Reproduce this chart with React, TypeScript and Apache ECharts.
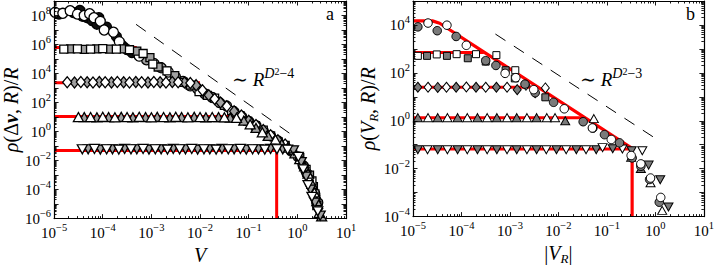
import React, { useEffect, useRef } from 'react';
import * as echarts from 'echarts';

const SERIF = '"Liberation Serif", "DejaVu Serif", "Times New Roman", serif';

// All coordinates below are log10 values: [log10 V, log10 rho/R]
// ---------- Panel a ----------
const aCirclesOpen: number[][] = [
  [-4.98, 8.22], [-4.82, 8.15], [-4.67, 8.33], [-4.52, 8.1], [-4.38, 8.0], [-4.27, 8.12], [-4.18, 7.85],
  [-4.05, 7.6], [-3.97, 7.0], [-3.78, 6.85], [-3.66, 6.2], [-3.5, 5.65], [-3.25, 5.2], [-2.95, 4.7],
  [-2.65, 4.1], [-2.35, 3.45], [-2.05, 2.95], [-1.75, 2.35], [-1.45, 1.75], [-1.15, 1.05], [-0.85, 0.4],
  [-0.55, -0.3], [-0.25, -1.0], [0.02, -1.75], [0.2, -2.9], [0.36, -4.3],
];
const aCirclesFilled: number[][] = [
  [-4.9, 8.1], [-4.6, 8.2], [-4.47, 8.35], [-4.42, 7.95], [-4.32, 7.85], [-4.22, 7.65], [-4.12, 7.4],
  [-4.08, 7.85], [-3.92, 7.2], [-3.72, 6.55], [-3.62, 6.0], [-3.56, 5.8], [-3.4, 5.45],
];
const aCirclesGrey: number[][] = [
  [-3.1, 4.95], [-2.8, 4.4], [-2.5, 3.75], [-2.2, 3.15], [-1.9, 2.6], [-1.6, 2.0], [-1.3, 1.35],
  [-1.0, 0.7], [-0.7, 0.05], [-0.4, -0.65], [-0.12, -1.35], [0.12, -2.35], [0.28, -3.6], [0.42, -4.9],
];
const aSquaresOpen: number[][] = [
  [-4.8, 5.68], [-4.52, 5.7], [-4.25, 5.68], [-4.0, 5.72], [-3.72, 5.68], [-3.45, 5.64], [-3.17, 5.38],
  [-2.97, 4.65], [-2.68, 4.18], [-2.35, 3.4], [-2.02, 2.75], [-1.7, 2.3], [-1.35, 1.45], [-1.02, 0.7],
  [-0.7, 0.1], [-0.4, -0.7], [-0.1, -1.3], [0.18, -2.6], [0.3, -3.4], [0.36, -4.3], [0.4, -5.1],
];
const aSquaresGrey: number[][] = [
  [-4.66, 5.7], [-4.38, 5.66], [-4.12, 5.7], [-3.86, 5.68], [-3.58, 5.7], [-3.3, 5.55], [-3.03, 5.1],
  [-2.86, 4.45], [-2.52, 3.85], [-2.2, 3.2], [-1.85, 2.5], [-1.5, 1.8], [-1.18, 1.1], [-0.86, 0.4],
  [-0.55, -0.3], [-0.25, -0.95], [0.05, -1.8], [0.25, -3.0], [0.33, -3.8], [0.38, -4.7],
];
const aDiamondsOpen: number[][] = [
  [-4.73, 3.4], [-4.45, 3.42], [-4.2, 3.38], [-3.95, 3.4], [-3.7, 3.42], [-3.45, 3.38], [-3.2, 3.4],
  [-2.95, 3.42], [-2.7, 3.38], [-2.45, 3.4], [-2.2, 3.35], [-1.95, 2.85], [-1.7, 2.25], [-1.45, 1.75],
  [-1.15, 1.1], [-0.85, 0.45], [-0.55, -0.25], [-0.25, -0.9], [0.05, -1.9], [0.25, -3.2], [0.38, -4.6],
];
const aDiamondsGrey: number[][] = [
  [-4.58, 3.38], [-4.32, 3.4], [-4.07, 3.42], [-3.82, 3.38], [-3.57, 3.4], [-3.32, 3.42], [-3.07, 3.38],
  [-2.82, 3.4], [-2.57, 3.42], [-2.32, 3.38], [-2.08, 3.2], [-1.82, 2.5], [-1.58, 2.0], [-1.3, 1.4],
  [-1.0, 0.75], [-0.7, 0.1], [-0.4, -0.6], [-0.1, -1.35], [0.15, -2.5], [0.32, -3.9], [0.43, -5.3],
];
const aUpOpen: number[][] = [
  [-4.5, 1.0], [-4.25, 1.0], [-4.0, 1.02], [-3.75, 0.98], [-3.5, 1.0], [-3.25, 1.02], [-3.0, 0.98],
  [-2.75, 1.0], [-2.5, 1.02], [-2.25, 0.98], [-2.0, 1.0], [-1.75, 1.0], [-1.5, 0.98], [-1.25, 0.95],
  [-0.97, 0.5], [-0.72, -0.05], [-0.45, -0.55], [-0.2, -1.1], [0.05, -1.9], [0.22, -2.9], [0.35, -4.2],
  [0.45, -5.6],
];
const aUpGrey: number[][] = [
  [-4.38, 1.0], [-4.12, 0.98], [-3.88, 1.0], [-3.62, 1.02], [-3.38, 0.98], [-3.12, 1.0], [-2.88, 1.02],
  [-2.62, 0.98], [-2.38, 1.0], [-2.12, 1.02], [-1.88, 0.98], [-1.62, 1.0], [-1.38, 0.96], [-1.1, 0.75],
  [-0.85, 0.25], [-0.6, -0.3], [-0.32, -0.85], [-0.05, -1.5], [0.15, -2.4], [0.3, -3.6], [0.4, -4.8],
  [0.5, -5.85],
];
const aDownOpen: number[][] = [
  [-4.42, -1.22], [-4.17, -1.2], [-3.92, -1.22], [-3.67, -1.24], [-3.42, -1.22], [-3.17, -1.2],
  [-2.92, -1.22], [-2.67, -1.24], [-2.42, -1.22], [-2.17, -1.2], [-1.92, -1.22], [-1.67, -1.24],
  [-1.42, -1.22], [-1.17, -1.2], [-0.92, -1.22], [-0.67, -1.24], [-0.42, -1.22], [-0.2, -1.25],
  [0.02, -1.75], [0.12, -2.6], [0.22, -3.7], [0.3, -4.5], [0.42, -5.5],
];
const aDownGrey: number[][] = [
  [-4.3, -1.22], [-4.05, -1.24], [-3.8, -1.22], [-3.55, -1.2], [-3.3, -1.22], [-3.05, -1.24],
  [-2.8, -1.22], [-2.55, -1.2], [-2.3, -1.22], [-2.05, -1.24], [-1.8, -1.22], [-1.55, -1.2],
  [-1.3, -1.22], [-1.05, -1.24], [-0.8, -1.22], [-0.55, -1.2], [-0.3, -1.22], [-0.08, -1.3],
  [0.08, -2.1], [0.18, -3.1], [0.27, -4.0], [0.36, -4.9], [0.47, -5.8],
];
const aRedSquares: number[][] = [[-5, 5.8], [-3.3, 5.8]];
const aRedDiamonds: number[][] = [[-5, 3.37], [-2.0, 3.37]];
const aRedUp: number[][] = [[-5, 1.03], [-1.3, 1.03]];
const aRedDown: number[][] = [[-5, -1.31], [-0.425, -1.31], [-0.425, -6]];
const aPowerLaw: number[][] = [[-3.315, 7.39], [-0.05, -0.38]];

// ---------- Panel b ----------
const bCirclesOpen: number[][] = [
  [-4.69, 4.08], [-4.3, 3.99], [-3.9, 3.15], [-3.1, 1.98], [-2.88, 1.8], [-2.51, 1.3], [-1.88, 0.5],
  [-1.3, -0.3], [-0.91, -0.78], [-0.5, -1.45], [-0.3, -1.8], [-0.1, -2.39], [0.11, -3.2],
];
const bCirclesGrey: number[][] = [
  [-4.9, 3.92], [-4.5, 3.76], [-4.11, 3.52], [-3.5, 2.51], [-3.29, 2.31], [-2.69, 1.53], [-2.48, 1.17],
  [-2.1, 0.77], [-1.49, -0.04], [-1.29, -0.31], [-1.05, -0.58], [-0.74, -0.92], [-0.48, -1.55],
  [-0.3, -1.9], [-0.12, -2.45], [0.08, -3.4],
];
const bSquaresOpen: number[][] = [
  [-4.9, 2.71], [-4.51, 2.77], [-4.1, 2.78], [-3.7, 2.78], [-3.28, 2.74], [-2.89, 2.11],
];
const bSquaresGrey: number[][] = [
  [-4.71, 2.71], [-4.3, 2.71], [-3.87, 2.61], [-3.5, 2.47], [-3.09, 2.11], [-2.9, 1.77], [-2.27, 0.98],
];
const bDiamondsOpen: number[][] = [
  [-4.69, 1.4], [-4.31, 1.4], [-3.9, 1.41], [-3.5, 1.4], [-3.06, 1.4], [-2.67, 1.48], [-2.27, 1.37],
];
const bDiamondsGrey: number[][] = [
  [-4.9, 1.4], [-4.49, 1.39], [-4.11, 1.4], [-3.7, 1.4], [-3.28, 1.4], [-2.85, 1.3], [-2.48, 1.17],
];
const bUpOpen: number[][] = [
  [-4.69, 0.13], [-4.29, 0.13], [-3.88, 0.13], [-3.47, 0.13], [-3.06, 0.13], [-2.65, 0.13], [-2.24, 0.13],
  [-2.07, 0.13], [-1.27, 0.09], [-0.5, -1.52], [-0.1, -2.59], [0.14, -3.74],
];
const bUpGrey: number[][] = [
  [-4.9, 0.13], [-4.49, 0.13], [-4.08, 0.13], [-3.67, 0.13], [-3.27, 0.13], [-2.86, 0.13], [-2.45, 0.13],
  [-1.86, 0.0], [-0.3, -1.99],
];
const bDownOpen: number[][] = [
  [-4.7, -1.21], [-4.29, -1.21], [-3.88, -1.21], [-3.47, -1.21], [-3.06, -1.21], [-2.65, -1.21],
  [-2.25, -1.21], [-1.84, -1.21], [-1.43, -1.21], [-1.09, -1.12], [-0.68, -1.18], [-0.27, -1.25],
];
const bDownGrey: number[][] = [
  [-4.9, -1.21], [-4.49, -1.21], [-4.08, -1.21], [-3.67, -1.21], [-3.27, -1.21], [-2.86, -1.21],
  [-2.45, -1.21], [-2.04, -1.21], [-1.63, -1.21], [-1.22, -1.21], [-0.88, -1.17], [-0.49, -1.25],
  [-0.14, -1.85], [0.1, -2.46], [0.27, -3.6],
];
const bRedEnvelope: number[][] = [[-5, 4.17], [-4.6, 4.17], [-4.45, 4.07], [-0.48, -1.15], [-0.48, -4]];
const bRedSquares: number[][] = [[-5, 2.85], [-3.54, 2.85]];
const bRedDiamonds: number[][] = [[-5, 1.4], [-2.44, 1.4]];
const bRedUp: number[][] = [[-5, 0.13], [-1.47, 0.13]];
const bRedDown: number[][] = [[-5, -1.18], [-0.48, -1.18]];
const bPowerLaw: number[][] = [[-3.3, 3.62], [0.035, -0.78]];

// axis ranges (log10 decades)
const xRange = [-5, 1];
const aYRange = [-6, 9];
const bYRange = [-4, 5];

const supText = (n: number) => (n < 0 ? '\u2212' + -n : String(n));

const minorTicks = (lo: number, hi: number) => {
  const out: number[] = [];
  for (let n = lo; n < hi; n++) for (let k = 2; k <= 9; k++) out.push(n + Math.log10(k));
  return out;
};

const tickRich = {
  b: { fontFamily: SERIF, fontSize: 15, lineHeight: 22, color: '#000' },
  s: { fontFamily: SERIF, fontSize: 10.5, lineHeight: 9, verticalAlign: 'top', color: '#000' },
};

const TF = 20;
const titleRich = {
  i: { fontFamily: SERIF, fontStyle: 'italic', fontSize: TF, lineHeight: 24, color: '#000' },
  u: { fontFamily: SERIF, fontSize: TF, lineHeight: 24, color: '#000' },
  bv: { fontFamily: SERIF, fontStyle: 'italic', fontWeight: 'bold', fontSize: TF, lineHeight: 24, color: '#000' },
  sub: { fontFamily: SERIF, fontStyle: 'italic', fontSize: 13, lineHeight: 11, verticalAlign: 'bottom', color: '#000' },
};

function axis(
  dim: 'x' | 'y', grid: number, pos: string, range: number[], minor: boolean,
  labels: boolean, everyOther: boolean, name?: string, nameGap?: number,
) {
  const o: any = {
    type: 'value', gridIndex: grid, position: pos, min: range[0], max: range[1], interval: 1,
    axisLine: { show: !minor, onZero: false, lineStyle: { color: '#000', width: 1.2 } },
    axisTick: {
      show: true, inside: true, length: minor ? 2.5 : 4.5,
      lineStyle: { color: '#000', width: 0.9 },
    },
    axisLabel: { show: false },
    splitLine: { show: false },
    z: 5,
  };
  if (minor) o.axisTick.customValues = minorTicks(range[0], range[1]);
  if (labels) {
    o.axisLabel = {
      show: true, margin: 3,
      formatter: (v: number) => {
        const n = Math.round(v);
        if (everyOther && n % 2 !== 0) return '';
        return `{b|10}{s|${supText(n)}}`;
      },
      rich: tickRich,
      showMinLabel: true, showMaxLabel: true,
    };
  }
  if (name) {
    o.name = name;
    o.nameLocation = 'middle';
    o.nameGap = nameGap;
    o.nameRotate = dim === 'y' ? 90 : 0;
    o.nameTextStyle = { rich: titleRich, fontFamily: SERIF, fontSize: TF, color: '#000' };
  }
  return o;
}

function scatter(data: number[][], xi: number, yi: number, symbol: string, size: any, fill: string, rotate = 0, bw = 1.2, z = 4) {
  return {
    type: 'scatter', xAxisIndex: xi, yAxisIndex: yi, data, symbol, symbolSize: size, symbolRotate: rotate,
    itemStyle: { color: fill, borderColor: '#000', borderWidth: bw, opacity: 1 },
    z, silent: true,
  };
}

function line(data: number[][], xi: number, yi: number, color: string, width: number, type: any = 'solid', z = 2) {
  return {
    type: 'line', xAxisIndex: xi, yAxisIndex: yi, data, showSymbol: false, symbol: 'none',
    lineStyle: { color, width, type }, z, silent: true, clip: true,
  };
}

export default function App() {
  const ref = useRef<HTMLDivElement>(null);
  useEffect(() => {
    if (!ref.current) return;
    const chart = echarts.init(ref.current, undefined, { renderer: 'svg' });
    const grey = '#7a7a7a';
    const lgrey = '#a0a0a0';
    const supRich = {
      t: { fontFamily: SERIF, fontSize: 19, lineHeight: 26, color: '#000' },
      i: { fontFamily: SERIF, fontStyle: 'italic', fontSize: 19, lineHeight: 26, color: '#000' },
      s: { fontFamily: SERIF, fontStyle: 'italic', fontSize: 14, lineHeight: 10, verticalAlign: 'top', color: '#000' },
      n: { fontFamily: SERIF, fontSize: 14, lineHeight: 10, verticalAlign: 'top', color: '#000' },
      ss: { fontFamily: SERIF, fontSize: 10, lineHeight: 17, verticalAlign: 'top', color: '#000' },
    };
    const dash = [12, 10];
    const option: any = {
      animation: false,
      backgroundColor: '#fff',
      grid: [
        { left: 54, top: 1, width: 292, height: 223 },
        { left: 413, top: 1, width: 294, height: 223 },
      ],
      xAxis: [
        axis('x', 0, 'bottom', xRange, false, true, false, '{i|V}', 17),
        axis('x', 0, 'bottom', xRange, true, false, false),
        axis('x', 0, 'top', xRange, false, false, false),
        axis('x', 0, 'top', xRange, true, false, false),
        axis('x', 1, 'bottom', xRange, false, true, false, '{u||}{i|V}{sub|R}{u||}', 17),
        axis('x', 1, 'bottom', xRange, true, false, false),
        axis('x', 1, 'top', xRange, false, false, false),
        axis('x', 1, 'top', xRange, true, false, false),
      ],
      yAxis: [
        axis('y', 0, 'left', aYRange, false, true, true, '{i|ρ}{u|(Δ}{bv|v}{u|, }{i|R}{u|)/}{i|R}', 31),
        axis('y', 0, 'left', aYRange, true, false, false),
        axis('y', 0, 'right', aYRange, false, false, false),
        axis('y', 0, 'right', aYRange, true, false, false),
        axis('y', 1, 'left', bYRange, false, true, true, '{i|ρ}{u|(}{i|V}{sub|R}{u|, }{i|R}{u|)/}{i|R}', 32),
        axis('y', 1, 'left', bYRange, true, false, false),
        axis('y', 1, 'right', bYRange, false, false, false),
        axis('y', 1, 'right', bYRange, true, false, false),
      ],
      series: [
        // panel a
        line(aRedSquares, 0, 0, '#ff0000', 3),
        line(aRedDiamonds, 0, 0, '#ff0000', 3),
        line(aRedUp, 0, 0, '#ff0000', 3),
        line(aRedDown, 0, 0, '#ff0000', 3),
        line(aPowerLaw, 0, 0, '#000', 1, dash, 3),
        scatter(aCirclesGrey, 0, 0, 'circle', 10, lgrey, 0, 1.3, 4),
        scatter(aCirclesFilled, 0, 0, 'circle', 10, '#111', 0, 1.3, 4),
        scatter(aCirclesOpen, 0, 0, 'circle', 10, '#fff', 0, 1.3, 4),
        scatter(aSquaresGrey, 0, 0, 'rect', 8, lgrey, 0, 1.3, 5),
        scatter(aSquaresOpen, 0, 0, 'rect', 8, '#fff', 0, 1.3, 5),
        scatter(aDiamondsGrey, 0, 0, 'diamond', [9, 11], lgrey, 0, 1.3, 6),
        scatter(aDiamondsOpen, 0, 0, 'diamond', [9, 11], '#fff', 0, 1.3, 6),
        scatter(aUpGrey, 0, 0, 'triangle', [10, 9], lgrey, 0, 1.3, 7),
        scatter(aUpOpen, 0, 0, 'triangle', [10, 9], '#fff', 0, 1.3, 7),
        scatter(aDownGrey, 0, 0, 'triangle', [10, 9], lgrey, 180, 1.3, 8),
        scatter(aDownOpen, 0, 0, 'triangle', [10, 9], '#fff', 180, 1.3, 8),
        // panel b
        line(bRedSquares, 4, 4, '#ff0000', 3),
        line(bRedDiamonds, 4, 4, '#ff0000', 3),
        line(bRedUp, 4, 4, '#ff0000', 3),
        line(bRedDown, 4, 4, '#ff0000', 3),
        line(bRedEnvelope, 4, 4, '#ff0000', 3.2),
        line(bPowerLaw, 4, 4, '#000', 1, dash, 3),
        scatter(bDownGrey, 4, 4, 'triangle', [9, 8], grey, 180, 1),
        scatter(bDownOpen, 4, 4, 'triangle', [9, 8], '#fff', 180, 1),
        scatter(bUpGrey, 4, 4, 'triangle', [9, 8], grey, 0, 1),
        scatter(bUpOpen, 4, 4, 'triangle', [9, 8], '#fff', 0, 1),
        scatter(bDiamondsGrey, 4, 4, 'diamond', [8, 10], grey, 0, 1),
        scatter(bDiamondsOpen, 4, 4, 'diamond', [8, 10], '#fff', 0, 1),
        scatter(bSquaresGrey, 4, 4, 'rect', 7, grey, 0, 1),
        scatter(bSquaresOpen, 4, 4, 'rect', 7, '#fff', 0, 1),
        scatter(bCirclesGrey, 4, 4, 'circle', 8.5, grey, 0, 1),
        scatter(bCirclesOpen, 4, 4, 'circle', 8.5, '#fff', 0, 1),
      ],
      graphic: [
        { type: 'text', left: 326, top: 5, z: 10, style: { text: 'a', fontFamily: SERIF, fontSize: 18, fill: '#000' } },
        { type: 'text', left: 686, top: 5, z: 10, style: { text: 'b', fontFamily: SERIF, fontSize: 18, fill: '#000' } },
        {
          type: 'text', left: 232, top: 66, z: 10,
          style: { text: '{t|∼ }{i|R}{s|D}{ss|2}{n|\u22124}', rich: supRich, fill: '#000' },
        },
        {
          type: 'text', left: 580, top: 66, z: 10,
          style: { text: '{t|∼ }{i|R}{s|D}{ss|2}{n|\u22123}', rich: supRich, fill: '#000' },
        },
      ],
    };
    chart.setOption(option);
    return () => chart.dispose();
  }, []);
  return <div ref={ref} style={{ position: 'fixed', left: 0, top: 0, width: 717, height: 270 }} />;
}
